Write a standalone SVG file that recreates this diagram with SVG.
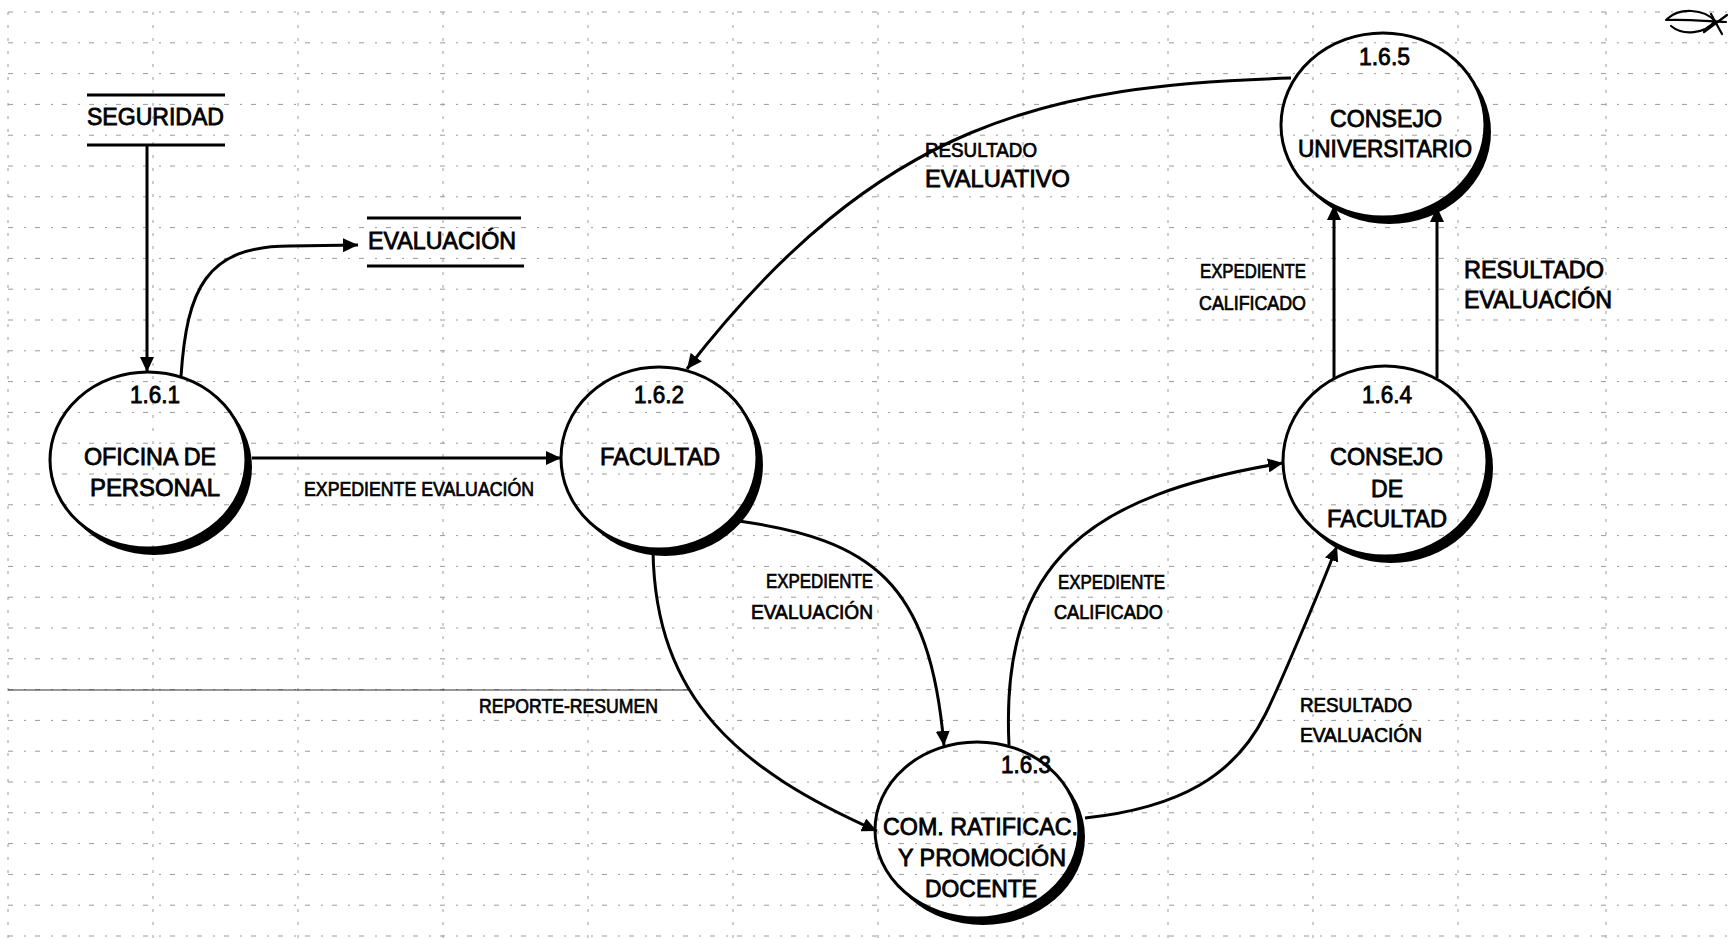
<svg xmlns="http://www.w3.org/2000/svg" width="1730" height="939" viewBox="0 0 1730 939">
  <style>
    .grid-h { stroke: #9a9a9a; stroke-width: 1; stroke-dasharray: 5 11 2 9; fill: none; }
    .grid-v { stroke: #9a9a9a; stroke-width: 1; stroke-dasharray: 3 10; fill: none; }
    .flow { fill: none; stroke: #000; stroke-width: 3; marker-end: url(#arrow); }
    .store { stroke: #000; stroke-width: 3; }
    .proc { fill: none; stroke: #000; stroke-width: 3; }
    .shadow { fill: #000; }
    text { font-family: "Liberation Sans", Arial, sans-serif; fill: #000; stroke: #000; stroke-width: 0.8; }
    .big { font-size: 23px; }
    .small { font-size: 20px; stroke-width: 0.7; }
  </style>
  <defs>
    <marker id="arrow" markerUnits="userSpaceOnUse" markerWidth="16" markerHeight="14" refX="15" refY="7" orient="auto">
      <path d="M0,0 L15,7 L0,14 z" fill="#000"/>
    </marker>
    <mask id="m161" maskUnits="userSpaceOnUse" x="0" y="0" width="1730" height="939">
      <rect width="1730" height="939" fill="#fff"/>
      <ellipse cx="148" cy="460" rx="98" ry="88" fill="#000"/>
    </mask>
    <mask id="m162" maskUnits="userSpaceOnUse" x="0" y="0" width="1730" height="939">
      <rect width="1730" height="939" fill="#fff"/>
      <ellipse cx="659" cy="458" rx="98" ry="91" fill="#000"/>
    </mask>
    <mask id="m163" maskUnits="userSpaceOnUse" x="0" y="0" width="1730" height="939">
      <rect width="1730" height="939" fill="#fff"/>
      <ellipse cx="977" cy="830" rx="102" ry="88" fill="#000"/>
    </mask>
    <mask id="m164" maskUnits="userSpaceOnUse" x="0" y="0" width="1730" height="939">
      <rect width="1730" height="939" fill="#fff"/>
      <ellipse cx="1385" cy="461" rx="102" ry="95" fill="#000"/>
    </mask>
    <mask id="m165" maskUnits="userSpaceOnUse" x="0" y="0" width="1730" height="939">
      <rect width="1730" height="939" fill="#fff"/>
      <ellipse cx="1383" cy="125" rx="102" ry="92" fill="#000"/>
    </mask>
  </defs>

  <rect width="1730" height="939" fill="#fff"/>

  <!-- sheet grid -->
  <g id="grid">
    <path class="grid-h" d="M8,12H1730M8,42.8H1730M8,73.6H1730M8,104.4H1730M8,135.2H1730M8,166H1730M8,196.8H1730M8,227.6H1730M8,258.4H1730M8,289.2H1730M8,320H1730M8,350.8H1730M8,381.6H1730M8,412.4H1730M8,443.2H1730M8,474H1730M8,504.8H1730M8,535.6H1730M8,566.4H1730M8,597.2H1730M8,628H1730M8,658.8H1730M8,689.6H1730M8,720.4H1730M8,751.2H1730M8,782H1730M8,812.8H1730M8,843.6H1730M8,874.4H1730M8,905.2H1730M8,936H1730"/>
    <path class="grid-v" d="M8,12V939M153,12V939M298,12V939M443,12V939M588,12V939M733,12V939M878,12V939M1023,12V939M1168,12V939M1313,12V939M1458,12V939M1606,12V939"/>
    <line x1="8" y1="690" x2="690" y2="690" stroke="#333" stroke-width="1.2"/>
  </g>

  <!-- data flows -->
  <g id="connectors">
    <path class="flow" d="M147,145 L147,372"/>
    <path class="flow" d="M181,376 C187,290 205,246 290,246 L358,245"/>
    <path class="flow" d="M252,458 L561,458"/>
    <path class="flow" d="M1291,78 C1050,85 880,120 687,369"/>
    <path class="flow" d="M739,521 C870,540 930,580 944,746"/>
    <path class="flow" d="M653,550 C655,700 740,770 877,831"/>
    <path class="flow" d="M1009,745 C1000,560 1090,495 1283,463"/>
    <path class="flow" d="M1085,818 C1180,808 1235,775 1265,715 C1280,685 1320,590 1337,546"/>
    <path class="flow" d="M1334,378 L1334,205"/>
    <path class="flow" d="M1437,378 L1437,207"/>
  </g>

  <!-- flow labels -->
  <g id="labels">
    <text class="small" x="925" y="157" textLength="112" lengthAdjust="spacingAndGlyphs">RESULTADO</text>
    <text class="big" x="925" y="187" textLength="145" lengthAdjust="spacingAndGlyphs">EVALUATIVO</text>
    <text class="small" x="304" y="496" textLength="230" lengthAdjust="spacingAndGlyphs">EXPEDIENTE EVALUACIÓN</text>
    <text class="small" x="766" y="588" textLength="107" lengthAdjust="spacingAndGlyphs">EXPEDIENTE</text>
    <text class="small" x="751" y="619" textLength="122" lengthAdjust="spacingAndGlyphs">EVALUACIÓN</text>
    <text class="small" x="1058" y="589" textLength="107" lengthAdjust="spacingAndGlyphs">EXPEDIENTE</text>
    <text class="small" x="1054" y="619" textLength="109" lengthAdjust="spacingAndGlyphs">CALIFICADO</text>
    <text class="small" x="1200" y="278" textLength="106" lengthAdjust="spacingAndGlyphs">EXPEDIENTE</text>
    <text class="small" x="1199" y="310" textLength="107" lengthAdjust="spacingAndGlyphs">CALIFICADO</text>
    <text class="big" x="1464" y="278" textLength="140" lengthAdjust="spacingAndGlyphs">RESULTADO</text>
    <text class="big" x="1464" y="308" textLength="148" lengthAdjust="spacingAndGlyphs">EVALUACIÓN</text>
    <text class="small" x="1300" y="712" textLength="112" lengthAdjust="spacingAndGlyphs">RESULTADO</text>
    <text class="small" x="1300" y="742" textLength="122" lengthAdjust="spacingAndGlyphs">EVALUACIÓN</text>
    <text class="small" x="479" y="713" textLength="179" lengthAdjust="spacingAndGlyphs">REPORTE-RESUMEN</text>
  </g>

  <!-- data stores -->
  <g id="store-seguridad">
    <line class="store" x1="87" y1="95" x2="225" y2="95"/>
    <line class="store" x1="87" y1="145" x2="225" y2="145"/>
    <text class="big" x="87" y="125" textLength="137" lengthAdjust="spacingAndGlyphs">SEGURIDAD</text>
  </g>
  <g id="store-evaluacion">
    <line class="store" x1="367" y1="218" x2="521" y2="218"/>
    <line class="store" x1="367" y1="266" x2="524" y2="266"/>
    <text class="big" x="368" y="249" textLength="148" lengthAdjust="spacingAndGlyphs">EVALUACIÓN</text>
  </g>

  <!-- processes -->
  <g id="p161">
    <ellipse class="shadow" cx="154" cy="467" rx="98" ry="88" mask="url(#m161)"/>
    <ellipse class="proc" cx="148" cy="460" rx="98" ry="88"/>
    <text class="big" x="130" y="403" textLength="50" lengthAdjust="spacingAndGlyphs">1.6.1</text>
    <text class="big" x="84" y="465" textLength="132" lengthAdjust="spacingAndGlyphs">OFICINA DE</text>
    <text class="big" x="90" y="496" textLength="130" lengthAdjust="spacingAndGlyphs">PERSONAL</text>
  </g>
  <g id="p162">
    <ellipse class="shadow" cx="665" cy="465" rx="98" ry="91" mask="url(#m162)"/>
    <ellipse class="proc" cx="659" cy="458" rx="98" ry="91"/>
    <text class="big" x="634" y="403" textLength="50" lengthAdjust="spacingAndGlyphs">1.6.2</text>
    <text class="big" x="600" y="465" textLength="120" lengthAdjust="spacingAndGlyphs">FACULTAD</text>
  </g>
  <g id="p163">
    <ellipse class="shadow" cx="983" cy="837" rx="102" ry="88" mask="url(#m163)"/>
    <ellipse class="proc" cx="977" cy="830" rx="102" ry="88"/>
    <text class="big" x="1001" y="773" textLength="50" lengthAdjust="spacingAndGlyphs">1.6.3</text>
    <text class="big" x="883" y="835" textLength="195" lengthAdjust="spacingAndGlyphs">COM. RATIFICAC.</text>
    <text class="big" x="898" y="866" textLength="168" lengthAdjust="spacingAndGlyphs">Y PROMOCIÓN</text>
    <text class="big" x="925" y="897" textLength="112" lengthAdjust="spacingAndGlyphs">DOCENTE</text>
  </g>
  <g id="p164">
    <ellipse class="shadow" cx="1391" cy="468" rx="102" ry="95" mask="url(#m164)"/>
    <ellipse class="proc" cx="1385" cy="461" rx="102" ry="95"/>
    <text class="big" x="1362" y="403" textLength="50" lengthAdjust="spacingAndGlyphs">1.6.4</text>
    <text class="big" x="1330" y="465" textLength="113" lengthAdjust="spacingAndGlyphs">CONSEJO</text>
    <text class="big" x="1371" y="497" textLength="32" lengthAdjust="spacingAndGlyphs">DE</text>
    <text class="big" x="1327" y="527" textLength="120" lengthAdjust="spacingAndGlyphs">FACULTAD</text>
  </g>
  <g id="p165">
    <ellipse class="shadow" cx="1389" cy="132" rx="102" ry="92" mask="url(#m165)"/>
    <ellipse class="proc" cx="1383" cy="125" rx="102" ry="92"/>
    <text class="big" x="1359" y="65" textLength="51" lengthAdjust="spacingAndGlyphs">1.6.5</text>
    <text class="big" x="1330" y="127" textLength="112" lengthAdjust="spacingAndGlyphs">CONSEJO</text>
    <text class="big" x="1298" y="157" textLength="174" lengthAdjust="spacingAndGlyphs">UNIVERSITARIO</text>
  </g>

  <!-- initials mark, top right corner -->
  <g id="mark" fill="none" stroke="#000" stroke-width="2.2" stroke-linecap="round">
    <path d="M1667,19 C1680,7 1704,9 1715,21 C1705,34 1683,36 1671,26"/>
    <path d="M1666,20 C1685,19 1705,21 1726,22"/>
    <path d="M1704,32 L1727,15"/>
    <path d="M1711,14 L1722,34"/>
  </g>
</svg>
